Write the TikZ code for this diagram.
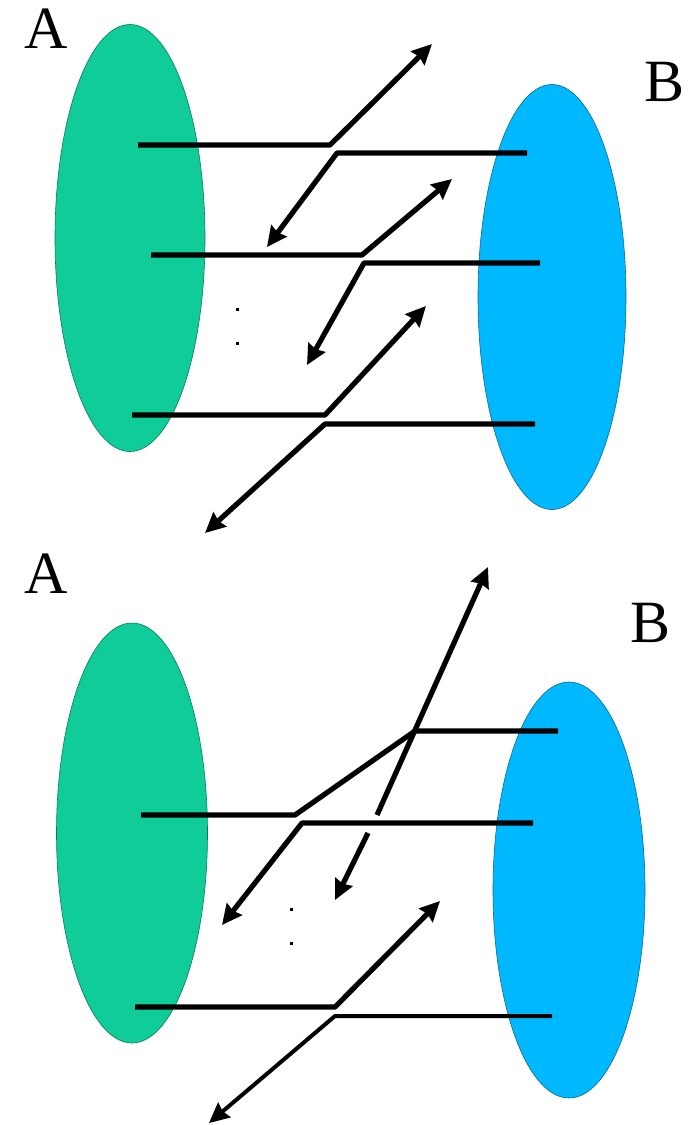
\documentclass[tikz,border=0pt]{standalone}
\usepackage{fontspec}
\setmainfont{Liberation Serif}
\usetikzlibrary{arrows.meta,shapes.geometric}
\definecolor{setgreen}{HTML}{0FCC98}
\definecolor{setgreenedge}{HTML}{0A7A5A}
\definecolor{setblue}{HTML}{00B8FF}
\definecolor{setblueedge}{HTML}{0A6A8A}
\tikzset{
  setA/.style={ellipse, inner sep=0pt, fill=setgreen, draw=setgreenedge, line width=0.6pt},
  setB/.style={ellipse, inner sep=0pt, fill=setblue, draw=setblueedge, line width=0.6pt},
  lbl/.style={font=\fontsize{60}{60}\selectfont, inner sep=0pt, anchor=base},
  mapline/.style={line width=5.2pt, line join=round},
  thinline/.style={line width=4pt, line join=round},
  arr/.style={-{Stealth[length=20pt,width=19pt,inset=2pt]}},
  dotm/.style={fill=black, inner sep=0pt, minimum size=3pt, rectangle}
}
\begin{document}
\begin{tikzpicture}[x=1pt,y=-1pt]
\useasboundingbox (0,0) rectangle (693,1125);
% ---------- top diagram ----------
\node[setA, minimum width=150pt, minimum height=427pt] (ga) at (130,238) {};
\node[setB, minimum width=148pt, minimum height=425pt] (bb) at (552,297) {};
\node[lbl] (la) at (46,48) {A};
\node[lbl] (lb) at (665,101) {B};

\coordinate (t1s) at (138,145); \coordinate (t1k) at (330,145); \coordinate (t1e) at (432,44);
\coordinate (t2s) at (527,153); \coordinate (t2k) at (337,153); \coordinate (t2e) at (267,247);
\coordinate (t3s) at (151,255); \coordinate (t3k) at (362,255); \coordinate (t3e) at (452,179);
\coordinate (t4s) at (540,263); \coordinate (t4k) at (364,263); \coordinate (t4e) at (307,365);
\coordinate (t5s) at (132,415); \coordinate (t5k) at (325,415); \coordinate (t5e) at (426,306);
\coordinate (t6s) at (535,424); \coordinate (t6k) at (325,424); \coordinate (t6e) at (205,533);

\draw[mapline, arr] (t1s) -- (t1k) -- (t1e);
\draw[mapline, arr] (t2s) -- (t2k) -- (t2e);
\draw[mapline, arr] (t3s) -- (t3k) -- (t3e);
\draw[mapline, arr] (t4s) -- (t4k) -- (t4e);
\draw[mapline, arr] (t5s) -- (t5k) -- (t5e);
\draw[mapline, arr] (t6s) -- (t6k) -- (t6e);

\node[dotm] (td1) at (237,309) {};
\node[dotm] (td2) at (237,343) {};

% ---------- bottom diagram ----------
\node[setA, minimum width=151pt, minimum height=420pt] (ga2) at (132,833) {};
\node[setB, minimum width=152pt, minimum height=416pt] (bb2) at (569,890) {};
\node[lbl] (la2) at (46,593) {A};
\node[lbl] (lb2) at (651,642) {B};

\coordinate (b1s) at (141,815); \coordinate (b1k) at (295,815); \coordinate (b1m) at (415,731); \coordinate (b1e) at (558,731);
\coordinate (b2s) at (533,823); \coordinate (b2k) at (302,823); \coordinate (b2e) at (222,925);
\coordinate (bxa) at (377,815); \coordinate (bxt) at (488,567);
\coordinate (bxb) at (368,833); \coordinate (bxd) at (335,900);
\coordinate (b3s) at (135,1007); \coordinate (b3k) at (335,1007); \coordinate (b3e) at (440,901);
\coordinate (b4s) at (552,1016); \coordinate (b4k) at (335,1016); \coordinate (b4e) at (209,1123);

\draw[mapline] (b1s) -- (b1k) -- (b1m) -- (b1e);
\draw[mapline, arr] (b2s) -- (b2k) -- (b2e);
\draw[mapline, arr] (bxa) -- (bxt);
\draw[mapline, arr] (bxb) -- (bxd);
\draw[mapline, arr] (b3s) -- (b3k) -- (b3e);
\draw[thinline, arr] (b4s) -- (b4k) -- (b4e);

\node[dotm] (bd1) at (291,909) {};
\node[dotm] (bd2) at (291,943) {};
\end{tikzpicture}
\end{document}
